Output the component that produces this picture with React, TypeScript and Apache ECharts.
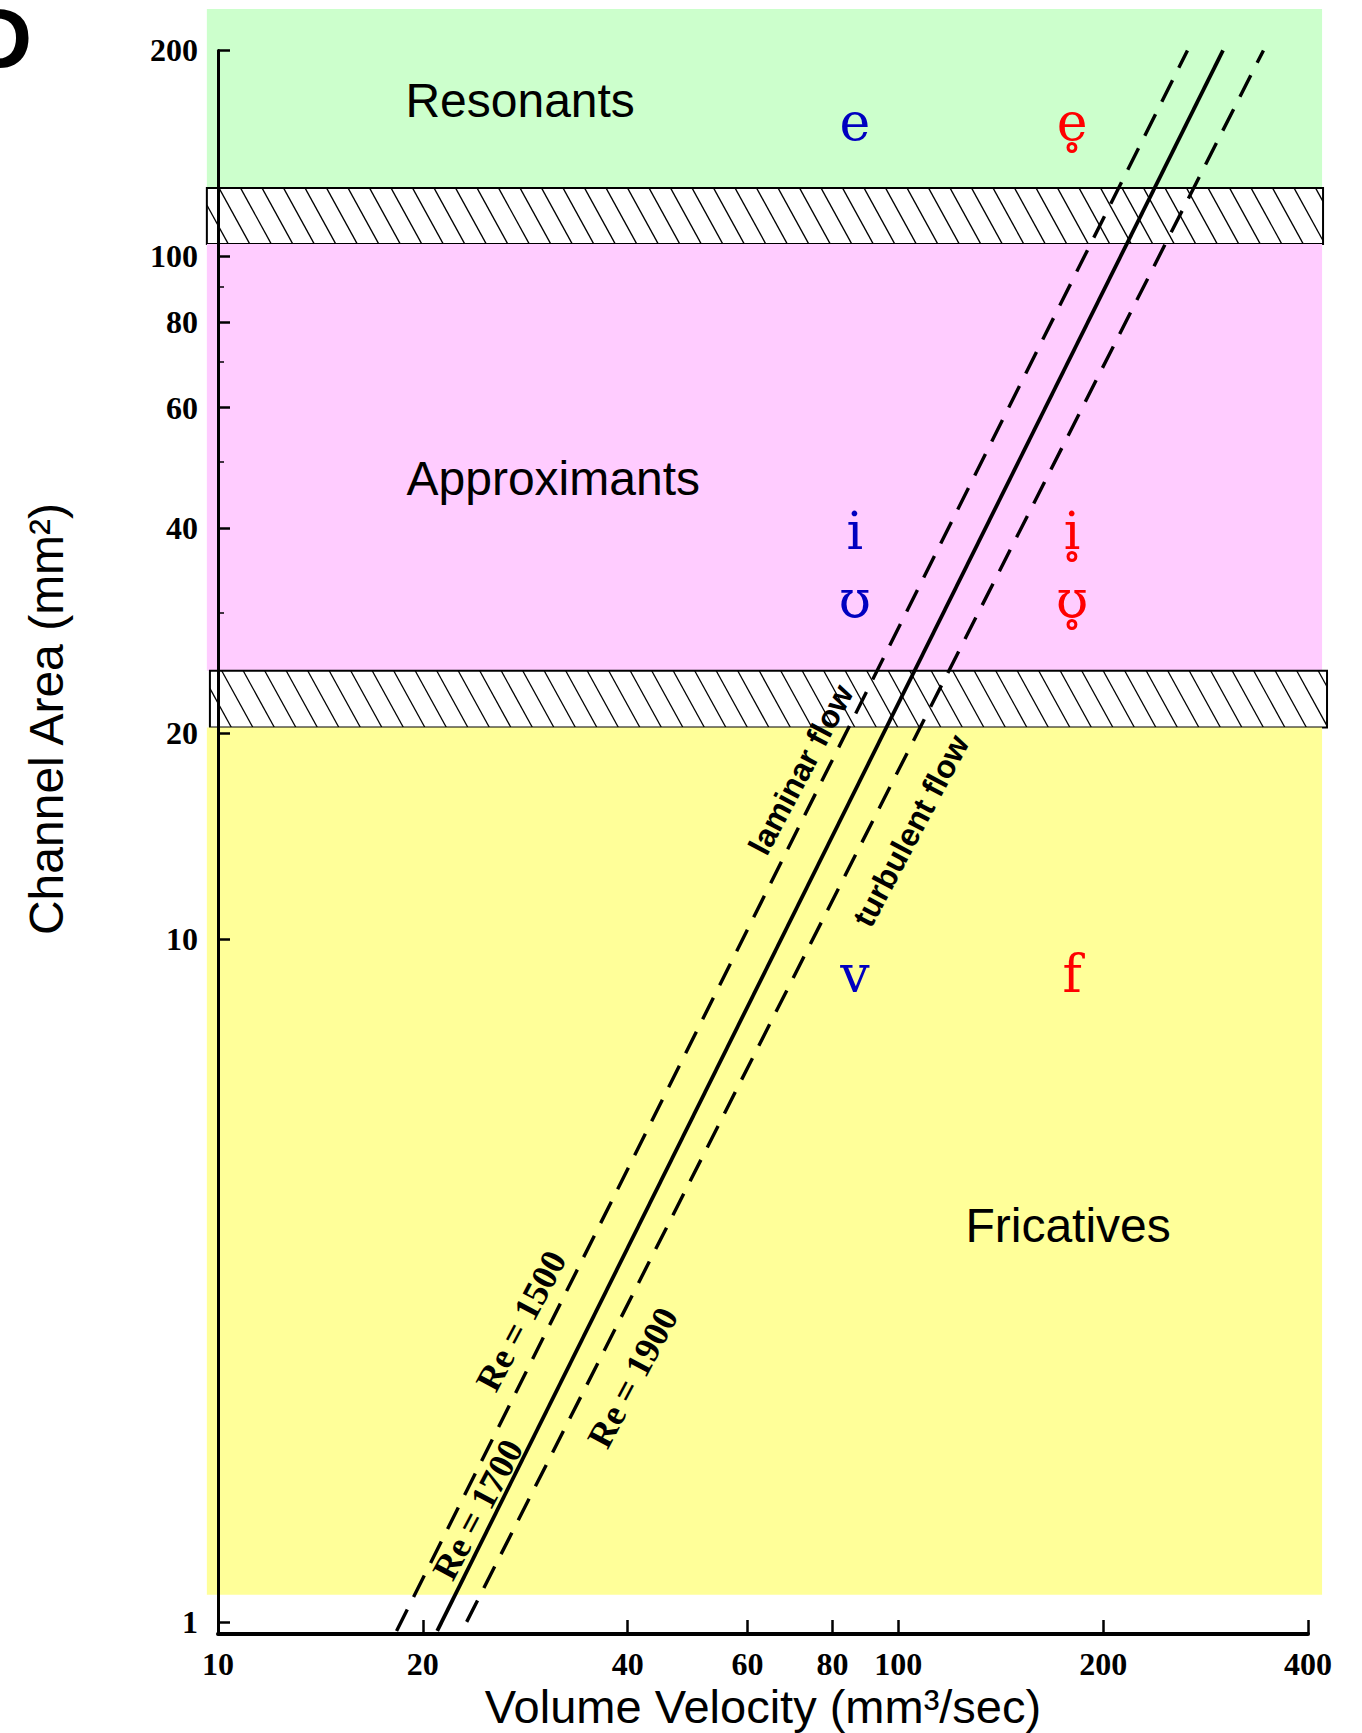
import React, { useEffect, useRef } from 'react';
import * as echarts from 'echarts';

// Axis ticks
const xTicks = [10, 20, 40, 60, 80, 100, 200, 400];
const yTicks = [1, 10, 20, 40, 60, 80, 100, 200];
const yMinorTicks = [30, 50, 70, 90];

// Background regions (volume velocity extent, channel area extent)
const regionColors = ['#ccffcc', '#ffffff', '#ffccff', '#ffffff', '#ffff99'];
const regionXStart = [9.63, 9.63, 9.63, 9.73, 9.63];
const regionXEnd = [419.5, 420.9, 419.5, 426.6, 419.5];
const regionALow = [125.8, 104.1, 24.7, 20.4, 1.096];
const regionAHigh = [230, 125.8, 104.1, 24.7, 20.4];
const regionHatched = [0, 1, 0, 1, 0];

// Region names
const regionLabels = ['Resonants', 'Approximants', 'Fricatives'];
const regionLabelV = [27.8, 31.1, 177.6];
const regionLabelA = [169, 47.2, 3.81];

// Phonetic symbols
const voicedSymbols = ['e', 'i', 'ʊ', 'v'];
const voicelessSymbols = ['e\u0325', 'i\u0325', 'ʊ\u0325', 'f'];
const voicedA = [157, 39.6, 31.5, 8.9];
const voicelessA = [157, 39.6, 31.5, 8.9];
const voicedV = [86.3, 86.3, 86.3, 86.3];
const voicelessV = [180, 180, 180, 180];

// Reynolds-number lines (endpoints)
const re1700V = [21, 300];
const re1700A = [0.97, 200];
const re1500V = [18.3, 266];
const re1500A = [0.97, 200];
const re1900V = [23.2, 344];
const re1900A = [1.0, 200];

// Annotations along the lines
const flowText = ['laminar flow', 'turbulent flow'];
const flowV = [71.9, 104.3];
const flowA = [17.7, 14.4];
const reText = ['Re = 1500', 'Re = 1900', 'Re = 1700'];
const reV = [27.9, 40.7, 24.1];
const reA = [2.76, 2.28, 1.46];

const SERIF = '"Liberation Serif", "DejaVu Serif", serif';
const IPA = '"DejaVu Serif", "Liberation Serif", serif';
const SANS = '"Liberation Sans", Arial, sans-serif';

function pairs(xs: number[], ys: number[]) {
  return xs.map((x, i) => [x, ys[i]]);
}

export default function App() {
  const ref = useRef<HTMLDivElement>(null);
  useEffect(() => {
    if (!ref.current) return;
    const chart = echarts.init(ref.current, undefined, { renderer: 'svg' });

    const regionData = regionColors.map((_, i) => [
      regionXStart[i], regionXEnd[i], regionALow[i], regionAHigh[i], regionHatched[i],
    ]);

    const renderRegion = (params: any, api: any) => {
      const idx = params.dataIndex;
      const x0 = api.value(0), x1 = api.value(1), a0 = api.value(2), a1 = api.value(3);
      const hatched = api.value(4);
      const tl = api.coord([x0, a1]);
      const br = api.coord([x1, a0]);
      const left = tl[0], top = tl[1], right = br[0], bottom = br[1];
      const w = right - left, h = bottom - top;
      const children: any[] = [
        { type: 'rect', shape: { x: left, y: top, width: w, height: h }, style: { fill: regionColors[idx], stroke: null } },
      ];
      if (hatched) {
        const dx = h * 0.55;
        const step = 21.5;
        for (let t = left - dx; t < right; t += step) {
          let xs = t, ys = top, xe = t + dx, ye = bottom;
          if (xs < left) { ys = top + (left - t) * (h / dx); xs = left; }
          if (xe > right) { ye = top + (right - t) * (h / dx); xe = right; }
          if (xe <= xs) continue;
          children.push({ type: 'line', shape: { x1: xs, y1: ys, x2: xe, y2: ye }, style: { stroke: '#000', lineWidth: 1.3 } });
        }
        children.push({ type: 'rect', shape: { x: left, y: top, width: w, height: h }, style: { fill: 'none', stroke: '#000', lineWidth: 2 } });
      }
      return { type: 'group', children };
    };

    const textSeries = (name: string, data: any[], label: any) => ({
      type: 'scatter', name, data, symbolSize: 1, z: 6,
      itemStyle: { color: 'rgba(0,0,0,0)' },
      label: { show: true, position: 'inside', formatter: '{b}', textBorderWidth: 0, opacity: 1, ...label },
      silent: true,
    });

    const tickLabel = { fontFamily: SERIF, fontWeight: 'bold', fontSize: 32, color: '#000' };

    const option: any = {
      animation: false,
      backgroundColor: '#ffffff',
      grid: { left: 218, right: 54, top: 50.4, bottom: 99, containLabel: false, outerBoundsMode: 'none' },
      xAxis: {
        type: 'log', logBase: 10, min: 10, max: 400, z: 10,
        name: 'Volume Velocity (mm³/sec)', nameLocation: 'middle', nameGap: 49, nameMoveOverlap: false,
        nameTextStyle: { fontFamily: SANS, fontSize: 47, lineHeight: 47, color: '#000' },
        axisLine: { show: true, lineStyle: { color: '#000', width: 4 } },
        axisTick: { show: true, inside: true, length: 14, customValues: xTicks, lineStyle: { color: '#000', width: 2.5 } },
        axisLabel: { show: true, customValues: xTicks, margin: 14, lineHeight: 32, ...tickLabel, formatter: (v: number) => String(v) },
        splitLine: { show: false },
        minorTick: { show: false },
      },
      yAxis: [
        {
          type: 'log', logBase: 10, min: 0.96, max: 200, z: 10,
          axisLine: { show: true, lineStyle: { color: '#000', width: 3 } },
          axisTick: { show: true, inside: true, length: 12, customValues: yTicks, lineStyle: { color: '#000', width: 2.5 } },
          axisLabel: { show: true, customValues: yTicks, margin: 20, ...tickLabel, formatter: (v: number) => String(v) },
          splitLine: { show: false },
        },
        {
          type: 'log', logBase: 10, min: 0.96, max: 200, z: 10, position: 'left',
          axisLine: { show: false },
          axisTick: { show: true, inside: true, length: 6, customValues: yMinorTicks, lineStyle: { color: '#000', width: 1.5 } },
          axisLabel: { show: false },
          splitLine: { show: false },
        },
      ],
      graphic: [
        {
          type: 'text', x: 46, y: 719, rotation: Math.PI / 2,
          style: { text: 'Channel Area (mm²)', fontFamily: SANS, fontSize: 48, fill: '#000', align: 'center', verticalAlign: 'middle' },
        },
        {
          type: 'text', x: 32, y: 38,
          style: { text: 'D', fontFamily: SANS, fontWeight: 'bold', fontSize: 86, fill: '#000', align: 'right', verticalAlign: 'middle' },
        },
      ],
      series: [
        {
          type: 'custom', name: 'regions', renderItem: renderRegion, data: regionData, clip: false, z: 1, silent: true,
          encode: { x: [0, 1], y: [2, 3] },
        },
        {
          type: 'line', name: 'Re = 1700', data: pairs(re1700V, re1700A), symbol: 'none', clip: false, z: 5,
          lineStyle: { color: '#000', width: 3.8, type: 'solid' },
        },
        {
          type: 'line', name: 'Re = 1500', data: pairs(re1500V, re1500A), symbol: 'none', clip: false, z: 5,
          lineStyle: { color: '#000', width: 3.4, type: [24, 14] },
        },
        {
          type: 'line', name: 'Re = 1900', data: pairs(re1900V, re1900A), symbol: 'none', clip: false, z: 5,
          lineStyle: { color: '#000', width: 3.4, type: [24, 14] },
        },
        textSeries('regionNames', regionLabels.map((n, i) => ({ name: n, value: [regionLabelV[i], regionLabelA[i]] })),
          { fontFamily: SANS, fontSize: 48, color: '#000' }),
        textSeries('voiced', voicedSymbols.map((n, i) => ({ name: n, value: [voicedV[i], voicedA[i]] })),
          { fontFamily: IPA, fontSize: 52, color: '#0000c0' }),
        textSeries('voiceless', voicelessSymbols.map((n, i) => ({ name: n, value: [voicelessV[i], voicelessA[i]] })),
          { fontFamily: IPA, fontSize: 52, color: '#ff0000' }),
        textSeries('flow', flowText.map((n, i) => ({ name: n, value: [flowV[i], flowA[i]] })),
          { fontFamily: SANS, fontWeight: 'bold', fontSize: 32, color: '#000', rotate: 62 }),
        textSeries('reLabels', reText.map((n, i) => ({ name: n, value: [reV[i], reA[i]] })),
          { fontFamily: SERIF, fontWeight: 'bold', fontSize: 36, color: '#000', rotate: 62 }),
      ],
    };
    chart.setOption(option);
    return () => chart.dispose();
  }, []);
  return (
    <div
      ref={ref}
      style={{ position: 'absolute', left: 0, top: 0, width: 1362, height: 1733, background: '#fff' }}
    />
  );
}
